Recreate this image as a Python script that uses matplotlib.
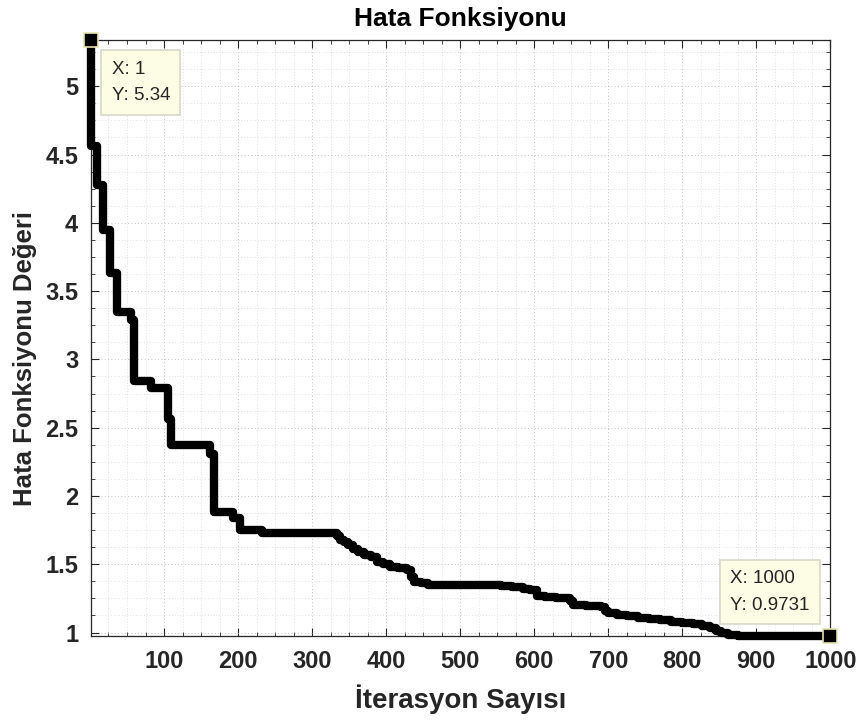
import matplotlib
matplotlib.use("Agg")
import matplotlib.pyplot as plt
from matplotlib.ticker import MultipleLocator, FixedLocator

plt.rcParams['font.family'] = ['Liberation Sans', 'DejaVu Sans']

# Step breakpoints (iteration, error value)
iterations = [1, 2, 9, 17, 27, 36, 56, 60, 83, 105, 110, 162, 168, 193, 202, 233,
              334, 338, 343, 349, 355, 362, 370, 380, 388, 396, 405, 416, 428, 433, 437,
              447, 456, 540, 555, 570, 585, 595, 604, 615, 630, 648, 652, 670, 690, 696,
              700, 712, 725, 740, 755, 770, 785, 800, 815, 827, 838, 846, 853, 862, 875,
              890, 1000]
errors = [5.34, 4.56, 4.28, 3.95, 3.63, 3.35, 3.29, 2.84, 2.79, 2.56, 2.37, 2.31, 1.88,
          1.84, 1.75, 1.73,
          1.71, 1.68, 1.66, 1.64, 1.61, 1.59, 1.57, 1.55, 1.52, 1.50, 1.48, 1.47, 1.46, 1.41, 1.37,
          1.36, 1.35, 1.345, 1.34, 1.33, 1.32, 1.31, 1.27, 1.26, 1.255, 1.23, 1.20, 1.195, 1.185, 1.16,
          1.14, 1.13, 1.12, 1.11, 1.10, 1.09, 1.08, 1.07, 1.06, 1.05, 1.03, 1.015, 1.00, 0.985, 0.978,
          0.975, 0.9731]

xticks = [100, 200, 300, 400, 500, 600, 700, 800, 900, 1000]
yticks = [1, 1.5, 2, 2.5, 3, 3.5, 4, 4.5, 5]
ytick_labels = ['1', '1.5', '2', '2.5', '3', '3.5', '4', '4.5', '5']

tip_points_x = [1, 1000]
tip_points_y = [5.34, 0.9731]

title = 'Hata Fonksiyonu'
xlabel = 'İterasyon Sayısı'
ylabel = 'Hata Fonksiyonu Değeri'

fig = plt.figure(figsize=(8.64, 7.23), dpi=100)
ax = fig.add_axes([0.105, 0.120, 0.856, 0.825])

ax.step(iterations, errors, where='post', color='black', linewidth=6,
        solid_joinstyle='round', solid_capstyle='butt', zorder=3, clip_on=False)

ax.set_xlim(1, 1000)
ax.set_ylim(0.9731, 5.34)

ax.xaxis.set_major_locator(FixedLocator(xticks))
ax.xaxis.set_minor_locator(MultipleLocator(25))
ax.set_yticks(yticks)
ax.set_yticklabels(ytick_labels)
ax.yaxis.set_minor_locator(MultipleLocator(0.125))

ax.tick_params(which='both', direction='in', top=True, right=True, colors='#262626')
ax.tick_params(which='major', length=6, width=0.8, labelsize=17)
ax.tick_params(axis='x', which='major', pad=10)
ax.tick_params(axis='y', which='major', pad=9)
ax.tick_params(which='minor', length=3, width=0.6)
for lbl in ax.get_xticklabels() + ax.get_yticklabels():
    lbl.set_fontweight('bold')

ax.grid(which='major', linestyle=(0, (1, 3)), color='#b0b0b0', linewidth=0.6)
ax.grid(which='minor', linestyle=(0, (1, 3)), color='#c8c8c8', linewidth=0.5)
ax.set_axisbelow(True)

for sp in ax.spines.values():
    sp.set_color('#262626')
    sp.set_linewidth(0.9)

ax.set_title(title, fontsize=19, fontweight='bold', pad=10)
ax.set_xlabel(xlabel, fontsize=20, fontweight='bold', color='#262626', labelpad=8)
ax.set_ylabel(ylabel, fontsize=18.5, fontweight='bold', color='#262626')
ax.yaxis.set_label_coords(-0.073, 0.465)

# data tip markers
ax.plot(tip_points_x, tip_points_y, linestyle='none', marker='s', markersize=10.5,
        markerfacecolor='black', markeredgecolor='#e8e4b0', markeredgewidth=1.2,
        clip_on=False, zorder=5)

box = dict(boxstyle='square,pad=0.55', facecolor='#fdfde6', edgecolor='#d8d8c8', linewidth=1.2)
ax.annotate(f'X: {tip_points_x[0]}\nY: {tip_points_y[0]}', xy=(tip_points_x[0], tip_points_y[0]),
            xytext=(15, -15), textcoords='offset points', ha='left', va='top',
            fontsize=13.5, color='#262626', bbox=box, linespacing=1.75, zorder=6)
ax.annotate(f'X: {tip_points_x[1]}\nY: {tip_points_y[1]}', xy=(tip_points_x[1], tip_points_y[1]),
            xytext=(-72, 16), textcoords='offset points', ha='left', va='bottom',
            fontsize=13.5, color='#262626', bbox=box, linespacing=1.75, zorder=6)

fig.savefig('out.png', dpi=100)
